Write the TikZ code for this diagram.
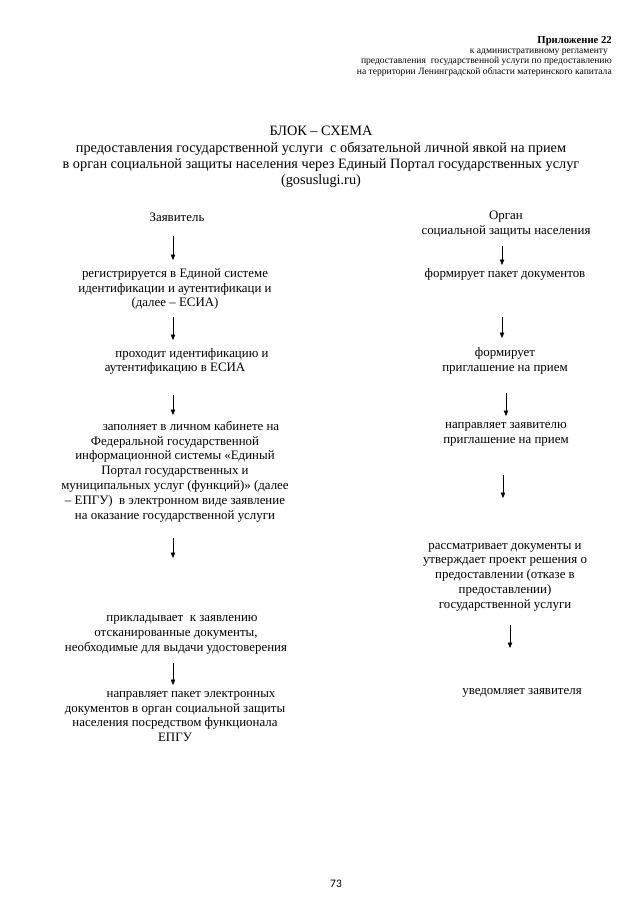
\documentclass[tikz,border=0pt]{standalone}
\usepackage{fontspec}
\setmainfont{Liberation Serif}
\newfontfamily\pagenumfont{Carlito}
\usetikzlibrary{arrows.meta}

\begin{document}
\begin{tikzpicture}[x=1pt,y=-1pt,
  txt/.style={align=center,inner sep=0pt,font=\fontsize{12.9}{14.8}\selectfont},
  arr/.style={-{Triangle[length=5.5pt,width=4.5pt]},line width=0.55pt}]
\useasboundingbox (0,0) rectangle (640,905);
\node[anchor=east,inner sep=0pt,font=\fontsize{10.7}{12}\selectfont\bfseries] (pril) at (612,41) {Приложение 22};
\node[anchor=north east,align=right,inner sep=0pt,font=\fontsize{9.6}{10.6}\selectfont] (reglam) at (612,48.5) {к административному регламенту\hspace*{4pt}\\
предоставления\ \ государственной услуги по предоставлению\\
на территории Ленинградской области материнского капитала};
\node[align=center,inner sep=0pt,font=\fontsize{14.3}{16.3}\selectfont] (title) at (321,157) {БЛОК – СХЕМА\\
предоставления государственной услуги\ \ с обязательной личной явкой на прием\\
в орган социальной защиты населения через Единый Портал государственных услуг\\
(gosuslugi.ru)};
\node[txt] (zayav) at (177,217) {Заявитель};
\node[txt] (reg) at (175,289) {регистрируется в Единой системе\\
идентификации и аутентификаци и\\
(далее – ЕСИА)};
\node[txt] (prohod) at (175,361.5) {\hspace*{34pt}проходит идентификацию и\\
аутентификацию в ЕСИА};
\node[txt] (zapoln) at (175,471.5) {\hspace*{32pt}заполняет в личном кабинете на\\
Федеральной государственной\\
информационной системы «Единый\\
Портал государственных и\\
муниципальных услуг (функций)» (далее\\
– ЕПГУ)\ \ в электронном виде заявление\\
на оказание государственной услуги};
\node[txt] (priklad) at (176,635) {\hspace*{12pt}прикладывает\ \ к заявлению\\
отсканированные документы,\\
необходимые для выдачи удостоверения};
\node[txt] (naprpak) at (175,716.5) {\hspace*{32pt}направляет пакет электронных\\
документов в орган социальной защиты\\
населения посредством функционала\\
ЕПГУ};
\node[txt] (organ) at (506,224) {Орган\\
социальной защиты населения};
\node[txt] (formpak) at (505,274) {формирует пакет документов};
\node[txt] (formpr) at (505,360.5) {формирует\\
приглашение на прием};
\node[txt] (naprzav) at (506,434) {направляет заявителю\\
приглашение на прием};
\node[txt] (rassm) at (505,577) {рассматривает документы и\\
утверждает проект решения о\\
предоставлении (отказе в\\
предоставлении)\\
государственной услуги};
\node[txt] (uved) at (522,693) {уведомляет заявителя};
\node[inner sep=0pt,font=\pagenumfont\fontsize{11.5}{13}\selectfont] (pagenum) at (336,884) {73};
\coordinate (la1) at (173,236);
\coordinate (lb1) at (173,260);
\coordinate (la2) at (173,317);
\coordinate (lb2) at (173,340);
\coordinate (la3) at (173,395);
\coordinate (lb3) at (173,415);
\coordinate (la4) at (173,538);
\coordinate (lb4) at (173,558);
\coordinate (la5) at (173,663);
\coordinate (lb5) at (173,685);
\coordinate (ra1) at (502,246);
\coordinate (rb1) at (502,265);
\coordinate (ra2) at (502,317);
\coordinate (rb2) at (502,338);
\coordinate (ra3) at (506,393);
\coordinate (rb3) at (506,416);
\coordinate (ra4) at (503,475);
\coordinate (rb4) at (503,498);
\coordinate (ra5) at (510,625);
\coordinate (rb5) at (510,648);
\draw[arr] (la1) -- (lb1);
\draw[arr] (la2) -- (lb2);
\draw[arr] (la3) -- (lb3);
\draw[arr] (la4) -- (lb4);
\draw[arr] (la5) -- (lb5);
\draw[arr] (ra1) -- (rb1);
\draw[arr] (ra2) -- (rb2);
\draw[arr] (ra3) -- (rb3);
\draw[arr] (ra4) -- (rb4);
\draw[arr] (ra5) -- (rb5);
\end{tikzpicture}
\end{document}
